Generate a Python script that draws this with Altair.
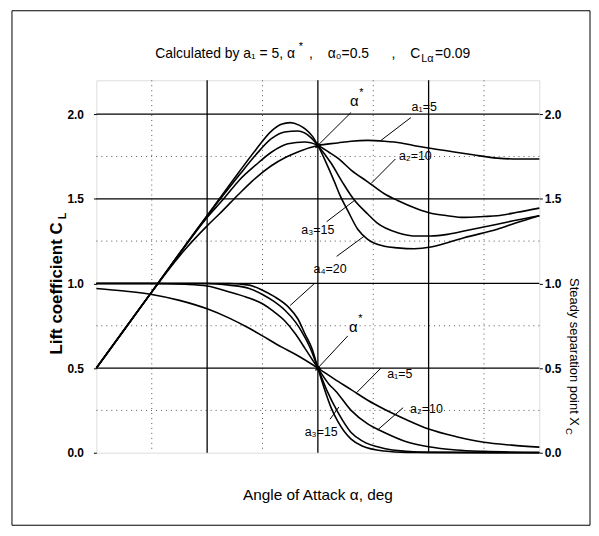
import altair as alt
import pandas as pd

FONT = "'Liberation Sans', Arial, sans-serif"

# ---- Lift coefficient curves C_L(alpha) ----
cl_a1_x = [0, 5, 6.5, 8, 10, 11.1, 12.9, 14, 15.8, 17.1, 18.3, 20, 21.8, 23, 24.5, 26, 27.5, 29, 31.5, 34, 36.2, 38, 40]
cl_a1_y = [0.50, 0.95, 1.08, 1.20, 1.34, 1.41, 1.53, 1.60, 1.695, 1.745, 1.78, 1.815, 1.83, 1.84, 1.845, 1.84, 1.83, 1.81, 1.785, 1.76, 1.74, 1.735, 1.735]

cl_a2_x = [0, 5, 8, 10, 11.5, 12.9, 14.4, 15.8, 17.3, 18.8, 20, 21, 21.8, 23, 24.5, 26, 27.2, 29, 30.2, 31.7, 33.2, 35, 36.2, 38, 40]
cl_a2_y = [0.50, 0.95, 1.22, 1.39, 1.50, 1.61, 1.70, 1.775, 1.825, 1.835, 1.815, 1.775, 1.74, 1.67, 1.60, 1.53, 1.49, 1.44, 1.415, 1.40, 1.39, 1.395, 1.40, 1.42, 1.445]

cl_a3_x = [0, 5, 10, 11.5, 12.9, 14.4, 15.8, 17, 18.2, 19.4, 20, 21.2, 22.2, 23.2, 24.5, 25.4, 27.2, 29, 30.2, 31.7, 33.2, 36.2, 38, 40]
cl_a3_y = [0.50, 0.95, 1.40, 1.525, 1.64, 1.76, 1.855, 1.895, 1.90, 1.86, 1.815, 1.71, 1.60, 1.50, 1.41, 1.355, 1.30, 1.28, 1.28, 1.29, 1.31, 1.35, 1.375, 1.40]

cl_a4_x = [0, 5, 10, 12.9, 14.4, 15.8, 16.7, 17.5, 18.3, 18.9, 19.5, 20, 20.7, 21.5, 22, 22.7, 23.6, 24.5, 26, 27.2, 28.7, 30.2, 31.7, 33.2, 36.2, 38, 40]
cl_a4_y = [0.50, 0.95, 1.40, 1.66, 1.79, 1.90, 1.94, 1.95, 1.935, 1.91, 1.87, 1.815, 1.72, 1.60, 1.52, 1.43, 1.32, 1.26, 1.22, 1.21, 1.205, 1.215, 1.24, 1.27, 1.32, 1.36, 1.40]

# ---- Steady separation point X_C(alpha) ----
xc_a1_x = [0, 2.5, 5, 7.5, 10, 12, 13.8, 15, 16.7, 18, 20, 21.5, 23, 24.5, 26, 28, 30, 32.5, 35, 37.5, 40]
xc_a1_y = [0.97, 0.955, 0.935, 0.90, 0.85, 0.795, 0.735, 0.69, 0.625, 0.58, 0.50, 0.435, 0.373, 0.31, 0.257, 0.195, 0.14, 0.095, 0.062, 0.045, 0.033]

xc_a2_x = [0, 5, 8, 10, 12, 13.5, 15, 16, 17, 18, 18.85, 20, 21, 21.6, 23, 24.5, 26, 28, 30, 32.5, 35, 40]
xc_a2_y = [1.0, 1.0, 0.995, 0.985, 0.95, 0.92, 0.88, 0.835, 0.78, 0.70, 0.615, 0.50, 0.405, 0.365, 0.25, 0.17, 0.12, 0.065, 0.035, 0.016, 0.008, 0.002]

xc_a3_x = [0, 10, 12, 13.8, 15, 16, 17.05, 18, 18.5, 19.3, 20, 20.8, 21.8, 23, 24, 26, 28, 30, 40]
xc_a3_y = [1.0, 1.0, 0.99, 0.97, 0.935, 0.895, 0.84, 0.77, 0.72, 0.62, 0.50, 0.37, 0.24, 0.12, 0.07, 0.025, 0.008, 0.002, 0.0]

xc_a4_x = [0, 10, 12, 13.8, 15, 16, 17.35, 18.2, 18.85, 19.5, 20, 20.6, 21.2, 21.8, 23, 24, 26, 28, 40]
xc_a4_y = [1.0, 1.0, 1.0, 0.99, 0.96, 0.925, 0.86, 0.79, 0.70, 0.61, 0.50, 0.375, 0.265, 0.185, 0.08, 0.04, 0.01, 0.002, 0.0]

# ---- grid / ticks ----
x_ticks = [0, 10, 20, 30, 40]
y_ticks = [0.0, 0.5, 1.0, 1.5, 2.0]
x_major = [10, 20, 30]
y_major = [0.5, 1.0, 1.5, 2.0]
x_minor = [5, 15, 25, 35]
y_minor = [0.25, 0.75, 1.25, 1.75]

# ---- annotations (data coordinates) ----
ptr_x = [23.0, 28.4, 27.0, 20.8, 21.7, 19.7, 22.7, 25.7, 27.7, 21.1]
ptr_y = [2.01, 1.98, 1.735, 1.365, 1.16, 1.00, 0.69, 0.50, 0.266, 0.198]
ptr_x2 = [20.0, 25.7, 24.8, 23.3, 24.2, 17.5, 20.0, 23.5, 25.4, 21.9]
ptr_y2 = [1.815, 1.845, 1.59, 1.49, 1.28, 0.87, 0.50, 0.355, 0.135, 0.27]

lab_text = ["a₁=5", "a₂=10", "a₃=15", "a₄=20", "a₁=5", "a₂=10", "a₃=15"]
lab_x = [29.6, 28.8, 20.0, 21.1, 27.4, 29.8, 20.3]
lab_y = [2.045, 1.755, 1.315, 1.085, 0.466, 0.257, 0.12]

alpha_x = [23.3, 23.2]
alpha_y = [2.075, 0.742]
arrow_x = [20.0, 20.0]
arrow_y = [1.815, 0.50]

# ---------------------------------------------------------------
def long(xs, ys, name):
    return pd.DataFrame({"alpha": xs, "v": ys, "s": name})

cl_df = pd.concat([long(cl_a1_x, cl_a1_y, "a1"), long(cl_a2_x, cl_a2_y, "a2"),
                   long(cl_a3_x, cl_a3_y, "a3"), long(cl_a4_x, cl_a4_y, "a4")])
xc_df = pd.concat([long(xc_a1_x, xc_a1_y, "a1"), long(xc_a2_x, xc_a2_y, "a2"),
                   long(xc_a3_x, xc_a3_y, "a3"), long(xc_a4_x, xc_a4_y, "a4")])

XS = alt.Scale(domain=[0, 40], nice=False)
YS = alt.Scale(domain=[0, 2.2], nice=False, zero=False)

def xenc(field="alpha"):
    return alt.X(f"{field}:Q", scale=XS, axis=None)

def yenc(field="v"):
    return alt.Y(f"{field}:Q", scale=YS, axis=None)

grid_minor_x = alt.Chart(pd.DataFrame({"alpha": x_minor})).mark_rule(
    color="#555", strokeWidth=1, strokeDash=[1, 4]).encode(x=xenc())
grid_minor_y = alt.Chart(pd.DataFrame({"v": y_minor})).mark_rule(
    color="#555", strokeWidth=1, strokeDash=[1, 4]).encode(y=yenc())
grid_major_x = alt.Chart(pd.DataFrame({"alpha": x_major})).mark_rule(
    color="black", strokeWidth=1.3).encode(x=xenc())
grid_major_y = alt.Chart(pd.DataFrame({"v": y_major})).mark_rule(
    color="black", strokeWidth=1.3).encode(y=yenc())

axis_common = dict(labelFont=FONT, labelFontSize=12, labelFontWeight="bold",
                   labelColor="black", tickColor="black", domain=False, grid=False,
                   title=None, tickSize=3)

cl_lines = alt.Chart(cl_df).mark_line(color="black", strokeWidth=1.6, interpolate="monotone").encode(
    x=alt.X("alpha:Q", scale=XS,
            axis=alt.Axis(values=x_ticks, format="d", labelPadding=5, **axis_common)),
    y=alt.Y("v:Q", scale=YS,
            axis=alt.Axis(values=y_ticks, format=".1f", orient="left", labelPadding=10, **axis_common)),
    detail="s:N",
)

xc_lines = alt.Chart(xc_df).mark_line(color="black", strokeWidth=1.6, interpolate="monotone").encode(
    x=xenc(),
    y=alt.Y("v:Q", scale=YS,
            axis=alt.Axis(values=y_ticks, format=".1f", orient="right", labelPadding=2, **axis_common)),
    detail="s:N",
)

ptr_df = pd.DataFrame({"x": ptr_x, "y": ptr_y, "x2": ptr_x2, "y2": ptr_y2})
pointers = alt.Chart(ptr_df).mark_rule(color="black", strokeWidth=1).encode(
    x=alt.X("x:Q", scale=XS, axis=None), y=alt.Y("y:Q", scale=YS, axis=None),
    x2="x2:Q", y2="y2:Q")

arrows = alt.Chart(pd.DataFrame({"alpha": arrow_x, "v": arrow_y})).mark_point(
    shape="triangle", filled=True, color="black", size=45, angle=225, opacity=1).encode(
    x=xenc(), y=yenc())

labels = alt.Chart(pd.DataFrame({"alpha": lab_x, "v": lab_y, "t": lab_text})).mark_text(
    font=FONT, fontSize=12.5, color="black").encode(x=xenc(), y=yenc(), text="t:N")

alphas = alt.Chart(pd.DataFrame({"alpha": alpha_x, "v": alpha_y})).mark_text(
    text="α", font=FONT, fontSize=15, color="black").encode(x=xenc(), y=yenc())
stars = alt.Chart(pd.DataFrame({"alpha": alpha_x, "v": alpha_y})).mark_text(
    text="*", font=FONT, fontSize=11, color="black", dx=7, dy=-8).encode(x=xenc(), y=yenc())

one = pd.DataFrame({"k": [0]})

def txt(s, x, y, **kw):
    base = dict(font=FONT, color="black", baseline="middle")
    base.update(kw)
    return alt.Chart(one).mark_text(text=s, **base).encode(x=alt.value(x), y=alt.value(y))

TS = 14
title_parts = [
    txt("Calculated by a₁ = 5, α", 200, -26, fontSize=TS, align="right"),
    txt("*", 206, -33, fontSize=11, align="center"),
    txt(",", 216, -26, fontSize=TS, align="center"),
    txt("α₀=0.5", 233, -26, fontSize=TS, align="left"),
    txt(",", 299, -26, fontSize=TS, align="center"),
    txt("C", 326, -26, fontSize=TS, align="right"),
    txt("Lα", 327, -21, fontSize=11, align="left"),
    txt("=0.09", 341, -26, fontSize=TS, align="left"),
]

xtitle = txt("Angle of Attack α, deg", 223, 418, fontSize=15.5, align="center")
ytitle = txt("Lift coefficient C", -40, 143, fontSize=17, fontWeight="bold", angle=270, align="right")
ytitle_sub = txt("L", -34, 140, fontSize=11, fontWeight="bold", angle=270, align="left")
rtitle = txt("Steady separation point X", 481, 348, fontSize=13, angle=90, align="right")
rtitle_sub = txt("C", 476, 350, fontSize=9.5, angle=90, align="left")

frame = alt.Chart(one).mark_rect(fillOpacity=0, stroke="black", strokeWidth=1).encode(
    x=alt.value(-85), x2=alt.value(497), y=alt.value(-70), y2=alt.value(448))

chart = alt.layer(
    grid_minor_x, grid_minor_y, grid_major_x, grid_major_y,
    cl_lines, xc_lines, pointers, arrows, labels, alphas, stars,
    *title_parts, xtitle, ytitle, ytitle_sub, rtitle, rtitle_sub, frame,
).resolve_scale(y="independent").properties(
    width=446, height=375,
    padding={"left": 89, "top": 71, "right": 52, "bottom": 74},
    autosize=alt.AutoSizeParams(type="none"),
).configure_view(stroke="black", strokeWidth=1.5).configure(background="white")

chart.save("out.html", embed_options={"renderer": "svg", "actions": False})
